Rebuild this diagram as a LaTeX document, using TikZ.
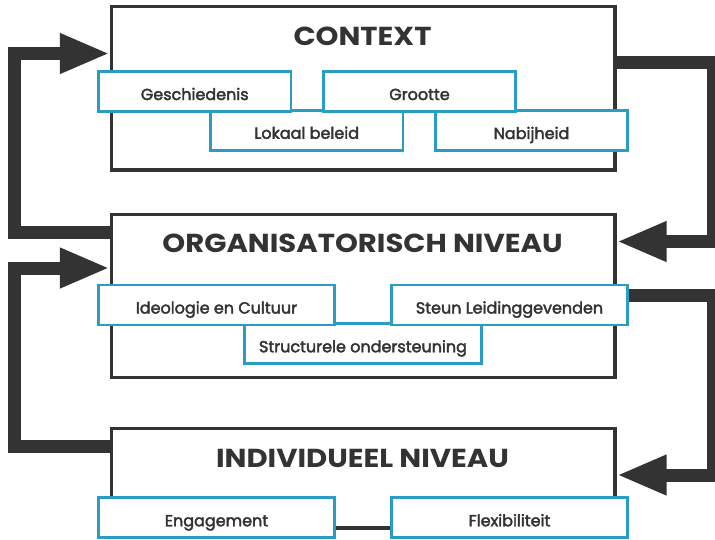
\documentclass[tikz,border=0pt]{standalone}
\usepackage{fontspec}
\setmainfont{Poppins}
\newfontfamily\ttlfont{Poppins}[FakeStretch=1.12]
\newfontfamily\labfont{Poppins}[FakeBold=2.5]
\usetikzlibrary{arrows.meta,backgrounds}
\definecolor{dk}{HTML}{333333}
\definecolor{bl}{HTML}{2B9CC4}
\begin{document}
\begin{tikzpicture}[x=1pt,y=-1pt,
  bigbox/.style={draw=dk,line width=3.2pt,fill=white,rectangle,inner sep=0pt},
  subbox/.style={draw=bl,line width=2.6pt,fill=white,rectangle,inner sep=0pt,
    minimum height=40pt,text=dk,font=\labfont\fontsize{16}{16}\selectfont,
    text height=17pt,text depth=0pt},
  ttl/.style={text=dk,font=\ttlfont\fontsize{26}{26}\selectfont\bfseries,anchor=base,inner sep=0pt},
  flow/.style={draw=dk,line width=13pt,line join=miter,-{Triangle[length=50pt,width=37pt]}}]
\useasboundingbox (0,0) rectangle (715,539);
% big boxes
\node[bigbox,minimum width=503.5pt,minimum height=163.5pt] (ctx) at (363.25,88.25) {};
\node[bigbox,minimum width=503.5pt,minimum height=163pt] (org) at (363.25,296) {};
\node[bigbox,minimum width=503.5pt,minimum height=99.5pt] (ind) at (363.25,478.25) {};
% titles
\node[ttl] (t1) at (362.5,45) {CONTEXT};
\node[ttl] (t2) at (362.5,252) {ORGANISATORISCH NIVEAU};
\node[ttl] (t3) at (362.5,467) {INDIVIDUEEL NIVEAU};
% context factors
\node[subbox,minimum width=192.5pt] (lok) at (306.75,130.25) {Lokaal beleid};
\node[subbox,minimum width=192pt] (nab) at (531.5,130.5) {Nabijheid};
\node[subbox,minimum width=192.5pt] (ges) at (194.75,91.5) {Geschiedenis};
\node[subbox,minimum width=192pt] (gro) at (419.5,91.5) {Grootte};
% organisational factors
\node[subbox,minimum width=237pt] (str) at (363,343.75) {Structurele ondersteuning};
\node[subbox,minimum width=236pt] (ide) at (216.5,305) {Ideologie en Cultuur};
\node[subbox,minimum width=236pt] (ste) at (509.5,305) {Steun Leidinggevenden};
% individual factors
\node[subbox,minimum width=236pt] (eng) at (216.5,517.75) {Engagement};
\node[subbox,minimum width=236pt] (fle) at (509.5,517.75) {Flexibiliteit};
% arrow corner points
\coordinate (la) at (14,232);
\coordinate (lt) at (14,53.5);
\coordinate (lb) at (14,446.5);
\coordinate (lm) at (14,268);
\coordinate (rc) at (713,62.5);
\coordinate (rm) at (713,241.5);
\coordinate (rd) at (713,295.5);
\coordinate (rb) at (713,475);
\begin{scope}[on background layer]
\draw[flow] (org.west |- la) -- (la) -- (lt) -- (ctx.west |- lt);
\draw[flow] (ind.west |- lb) -- (lb) -- (lm) -- (org.west |- lm);
\draw[flow] (ctx.east |- rc) -- (rc) -- (rm) -- (org.east |- rm);
\draw[flow] (ste.east |- rd) -- (rd) -- (rb) -- (ind.east |- rb);
\end{scope}
\end{tikzpicture}
\end{document}
